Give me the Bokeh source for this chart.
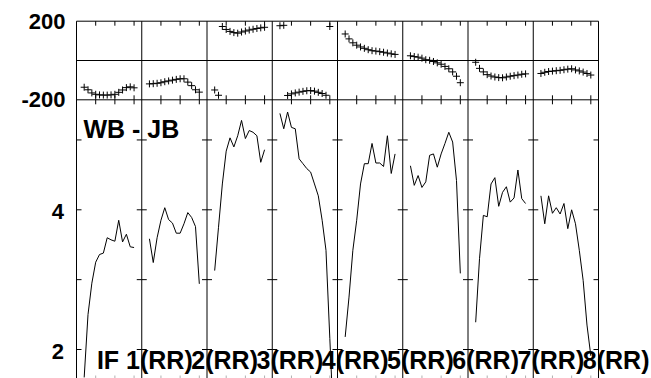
from math import pi
from bokeh.plotting import figure
from bokeh.models import Range1d, Label
from bokeh.embed import file_html
from bokeh.resources import INLINE

# ---------------- data ----------------
panel_labels = ["IF 1(RR)", "2(RR)", "3(RR)", "4(RR)", "5(RR)", "6(RR)", "7(RR)", "8(RR)"]
baseline_label = "WB - JB"
first_channel = 2          # first plotted channel in every panel
amp_ticks = [2, 3, 4, 5]
amp_labels = [2, 4]
phase_labels = [200, -200]
chan_ticks = [5, 10, 15]

# amplitude, channels 2..15 (IF 4 also has channel 16)
amp_if1 = [1.6, 2.5, 2.95, 3.25, 3.36, 3.38, 3.6, 3.57, 3.55, 3.85, 3.54, 3.65, 3.47, 3.46]
amp_if2 = [3.585, 3.245, 3.6, 3.85, 4.03, 3.86, 3.81, 3.665, 3.665, 3.8, 3.96, 3.89, 3.76, 2.94]
amp_if3 = [3.13, 3.75, 4.37, 4.84, 5.03, 4.90, 5.06, 5.28, 5.02, 5.135, 5.11, 5.06, 4.68, 4.86]
amp_if4 = [5.38, 5.16, 5.40, 5.18, 5.16, 4.73, 4.66, 4.59, 4.54, 4.37, 4.20, 3.85, 3.42, 2.16, 0.9]
amp_if5 = [2.18, 2.75, 3.42, 3.85, 4.37, 4.66, 4.66, 4.95, 4.67, 4.67, 4.62, 5.06, 4.52, 4.80]
amp_if6 = [4.63, 4.35, 4.49, 4.32, 4.40, 4.78, 4.80, 4.61, 4.80, 4.95, 5.11, 4.97, 4.42, 3.09]
amp_if7 = [2.39, 3.3, 3.92, 3.90, 4.37, 4.46, 4.05, 4.25, 4.33, 4.11, 4.17, 4.57, 4.16, 4.09]
amp_if8 = [4.20, 3.80, 4.20, 3.95, 4.03, 3.94, 4.09, 3.73, 4.00, 3.80, 3.42, 2.99, 2.35, 1.91]

# phase (degrees), channels 2..15
ph_if1 = [-136, -149, -165, -172, -175, -176, -176, -175, -172, -162, -150, -138, -134, -139]
ph_if2 = [-119, -118, -116, -113, -108, -104, -100, -96, -93, -93, -110, -128, -149, -161]
ph_if3 = [-150, -177, 173, 158, 148, 142, 139, 145, 150, 155, 159, 163, 166, 169]
ph_if4 = [177, 179, -178, -170, -165, -161, -157, -154, -153, -156, -162, -168, -177, 173]
ph_if5 = [135, 110, 90, 78, 69, 62, 55, 50, 48, 45, 42, 38, 34, 31]
ph_if6 = [24, 20, 17, 12, 4, 1, -5, -12, -19, -30, -42, -58, -80, -113]
ph_if7 = [-9, -40, -58, -72, -79, -84, -87, -88, -84, -80, -77, -74, -70, -68]
ph_if8 = [-66, -60, -56, -54, -52, -50, -47, -44, -42, -48, -53, -59, -66, -74]

amps = [amp_if1, amp_if2, amp_if3, amp_if4, amp_if5, amp_if6, amp_if7, amp_if8]
phases = [ph_if1, ph_if2, ph_if3, ph_if4, ph_if5, ph_if6, ph_if7, ph_if8]

# ---------------- layout (pixels) ----------------
W, H = 651, 378
LEFT, RIGHT = 76.0, 598.0          # panel block horizontal extent
PH_TOP, PH_BOT = 20.7, 99.3        # phase strip (200 .. -200)
A4_Y, A2_Y = 209.3, 349.0          # amplitude 4 and 2
N = len(panel_labels)
SLOT = 17                          # channel units per panel
X0 = 0.0
FONT = "Liberation Sans"
FS_TICK = "22px"
FS_TEXT = "25px"

xpp = (RIGHT - LEFT) / (N * SLOT)                 # px per channel
x_start = X0 - LEFT / xpp
x_end = X0 + N * SLOT + (W - RIGHT) / xpp
app = (A2_Y - A4_Y) / 2.0                          # px per amplitude unit
y_top = 4 + A4_Y / app
y_bot = 2 - (H - A2_Y) / app
ppp = (PH_BOT - PH_TOP) / 400.0                    # px per degree
ph_top = 200 + PH_TOP / ppp
ph_bot = -200 - (H - PH_BOT) / ppp

p = figure(width=W, height=H, output_backend="svg", toolbar_location=None,
           x_range=Range1d(x_start, x_end), y_range=Range1d(y_bot, y_top),
           x_axis_location=None, y_axis_location=None,
           min_border=0, min_border_left=0, min_border_right=0,
           min_border_top=0, min_border_bottom=0)
p.extra_y_ranges = {"phase": Range1d(ph_bot, ph_top)}
p.outline_line_color = None
p.grid.visible = False
p.background_fill_color = "white"
p.border_fill_color = "white"

bounds = [X0 + k * SLOT for k in range(N + 1)]
xr = X0 + N * SLOT

# frame / separators
p.segment(x0=bounds, y0=[200] * len(bounds), x1=bounds, y1=[ph_bot] * len(bounds),
          y_range_name="phase", line_color="black", line_width=1)
p.segment(x0=[X0] * 3, y0=[200, 0, -200], x1=[xr] * 3, y1=[200, 0, -200],
          y_range_name="phase", line_color="black", line_width=1)

# amplitude ticks on the separators (inward only at outer edges)
rx_r, ry_r, rx_l, ry_l = [], [], [], []
for i, b in enumerate(bounds):
    for t in amp_ticks:
        if i < N:
            rx_r.append(b); ry_r.append(t)
        if i > 0:
            rx_l.append(b); ry_l.append(t)
p.ray(rx_r, ry_r, length=5, length_units="screen", angle=0, line_color="black", line_width=1)
p.ray(rx_l, ry_l, length=5, length_units="screen", angle=pi, line_color="black", line_width=1)

# channel ticks
tick_x = [X0 + k * SLOT + c for k in range(N) for c in chan_ticks]
n = len(tick_x)
p.ray(tick_x, [200] * n, y_range_name="phase", length=4.5, length_units="screen",
      angle=-pi / 2, line_color="black", line_width=1)
p.ray(tick_x, [-200] * n, y_range_name="phase", length=4.5, length_units="screen",
      angle=-pi / 2, line_color="black", line_width=1)
p.ray(tick_x, [-200] * n, y_range_name="phase", length=4.5, length_units="screen",
      angle=pi / 2, line_color="black", line_width=1)
p.ray(tick_x, [y_bot] * n, length=3, length_units="screen",
      angle=pi / 2, line_color="#b0b0b0", line_width=1)

# data
for k in range(N):
    xa = [X0 + k * SLOT + first_channel + i for i in range(len(amps[k]))]
    p.line(xa, amps[k], line_color="black", line_width=1)
    xp = [X0 + k * SLOT + first_channel + i for i in range(len(phases[k]))]
    p.scatter(xp, phases[k], y_range_name="phase", marker="cross", size=7,
              line_color="black", line_width=1)

def lab(text, fs, **kw):
    p.add_layout(Label(text=text, text_font=FONT, text_font_style="bold",
                       text_font_size=fs, text_color="black", **kw))

for v in phase_labels:
    lab(str(v), FS_TICK, x=X0, y=v, y_range_name="phase", x_offset=-11,
        text_align="right", text_baseline="middle")
for v in amp_labels:
    lab(str(v), FS_TICK, x=X0, y=v, x_offset=-12.5, y_offset=-1.5,
        text_align="right", text_baseline="middle")

lab(baseline_label, FS_TEXT, x=X0, y=-200, y_range_name="phase", x_offset=7, y_offset=-29.5,
    text_align="left", text_baseline="alphabetic")

for k, t in enumerate(panel_labels):
    lab(t, FS_TEXT, x=bounds[k + 1], y=amp_labels[0], x_offset=51, y_offset=-10.5,
        text_align="right", text_baseline="alphabetic")

open("out.html", "w").write(file_html(p, INLINE))
